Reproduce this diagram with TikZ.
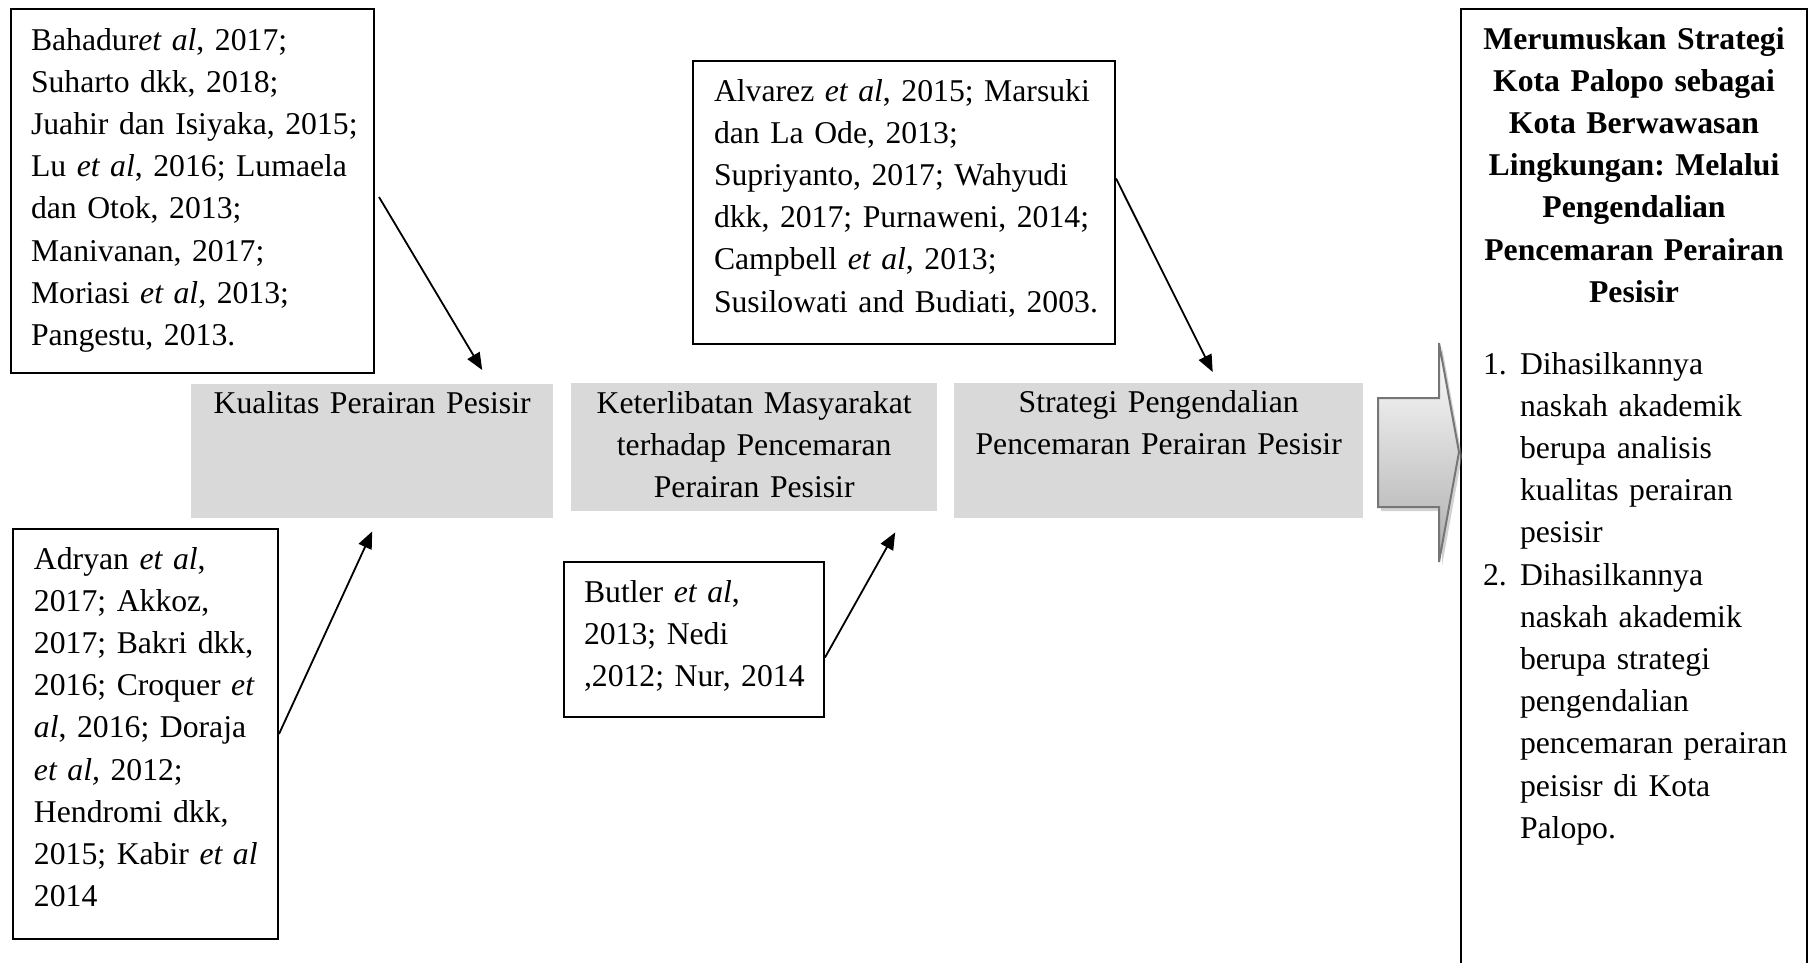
\documentclass[tikz,border=0pt]{standalone}
\usepackage{fontspec}
\setmainfont{Liberation Serif}
\usetikzlibrary{arrows.meta,shadows}

\definecolor{stagegray}{RGB}{217,217,217}
\definecolor{blockgray}{RGB}{118,118,118}

% lines are broken by hand: let a line run a little long rather than wrap
\newcommand{\keeplines}{\rightskip=0pt plus 1fil minus 40pt\relax}

\tikzset{
  refbox/.style={draw=black, line width=2pt, align=left, inner ysep=0pt, anchor=north west},
  stagebox/.style={fill=stagegray, align=center, inner xsep=10pt, inner ysep=0pt, anchor=north west},
  cite/.style={-{Triangle[length=17pt,width=14pt]}, line width=1.8pt},
}

\begin{document}
\frenchspacing
\begin{tikzpicture}[x=1pt,y=-1pt,every node/.style={font=\fontsize{31.7}{42.2}\selectfont\frenchspacing}]

\useasboundingbox (0,0) rectangle (1810,962);

%stages (grey)
\node[stagebox, text width=342pt, text height=29pt, text depth=105pt] (kualitas) at (191,384) {Kualitas Perairan Pesisir};
\node[stagebox, text width=346pt, text height=30pt, text depth=98pt] (masyarakat) at (571,383) {Keterlibatan Masyarakat\\terhadap Pencemaran\\Perairan Pesisir};
\node[stagebox, text width=389pt, text height=29pt, text depth=106pt] (strategi) at (954,383) {Strategi Pengendalian\\Pencemaran Perairan Pesisir};

%references
\node[refbox, text width=323pt, inner xsep=20pt, text height=41pt, text depth=323pt] (refA) at (10,8)
 {\keeplines
  Bahadur\textit{et al}, 2017;\\
  Suharto dkk, 2018;\\
  Juahir dan Isiyaka, 2015;\\
  Lu \textit{et al}, 2016; Lumaela\\
  dan Otok, 2013;\\
  Manivanan, 2017;\\
  Moriasi \textit{et al,} 2013;\\
  Pangestu, 2013.\par};
\node[refbox, text width=223pt, inner xsep=21pt, text height=40pt, text depth=370pt] (refB) at (12,528)
 {\keeplines
  Adryan \textit{et al},\\
  2017; Akkoz,\\
  2017; Bakri dkk,\\
  2016; Croquer \textit{et}\\
  \textit{al}, 2016; Doraja\\
  \textit{et al,} 2012;\\
  Hendromi dkk,\\
  2015; Kabir \textit{et al}\\
  2014\par};
\node[refbox, text width=220pt, inner xsep=20pt, text height=40pt, text depth=115pt] (refC) at (563,561)
 {\keeplines
  Butler \textit{et al},\\
  2013; Nedi\\
  ,2012; Nur, 2014\par};
\node[refbox, text width=380pt, inner xsep=21pt, text height=40pt, text depth=243pt] (refD) at (692,60)
 {\keeplines
  Alvarez \textit{et al}, 2015; Marsuki\\
  dan La Ode, 2013;\\
  Supriyanto, 2017; Wahyudi\\
  dkk, 2017; Purnaweni, 2014;\\
  Campbell \textit{et al}, 2013;\\
  Susilowati and Budiati, 2003.\par};

%output
\node[refbox, text width=310pt, inner xsep=18pt, text height=40pt, text depth=960pt] (hasil) at (1460,8)
 {{\centering\bfseries Merumuskan Strategi\\Kota Palopo sebagai\\Kota Berwawasan\\Lingkungan: Melalui\\Pengendalian\\Pencemaran Perairan\\Pesisir\par}
  \vspace{29.6pt}\keeplines
  \hspace*{4pt}\makebox[37pt][l]{1.}Dihasilkannya\\
  \hspace*{41pt}naskah akademik\\
  \hspace*{41pt}berupa analisis\\
  \hspace*{41pt}kualitas perairan\\
  \hspace*{41pt}pesisir\\
  \hspace*{4pt}\makebox[37pt][l]{2.}Dihasilkannya\\
  \hspace*{41pt}naskah akademik\\
  \hspace*{41pt}berupa strategi\\
  \hspace*{41pt}pengendalian\\
  \hspace*{41pt}pencemaran perairan\\
  \hspace*{41pt}peisisr di Kota\\
  \hspace*{41pt}Palopo.\par};

%citation arrows
\draw[cite] ([xshift=4pt,yshift=-6pt]refA.east) -- ([xshift=110pt,yshift=14pt]kualitas.north);
\draw[cite] (refB.east) -- ([yshift=-13pt]kualitas.south);
\draw[cite] ([yshift=-18pt]refC.east) -- ([xshift=141pt,yshift=-21pt]masyarakat.south);
\draw[cite] ([yshift=24pt]refD.east) -- ([xshift=54pt,yshift=11pt]strategi.north);

%block arrow to output
\draw[blockgray, line width=2pt, top color=white, bottom color=gray!65,
      drop shadow={shadow xshift=3pt, shadow yshift=-4pt, fill=gray!70}]
  (1378,398) -- (1439,398) -- (1439,343) -- (1459,452) -- (1439,562) -- (1439,507) -- (1378,507) -- cycle;

\end{tikzpicture}
\end{document}
